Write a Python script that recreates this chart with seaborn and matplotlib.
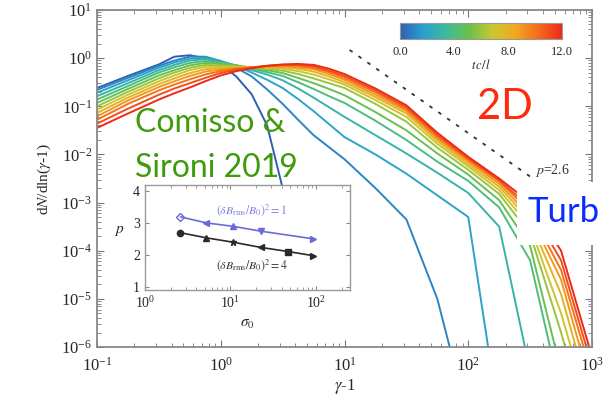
import numpy as np
import pandas as pd
import matplotlib
matplotlib.use("Agg")
import matplotlib.pyplot as plt
import seaborn as sns
from matplotlib.colors import LinearSegmentedColormap, Normalize
from matplotlib.cm import ScalarMappable
from matplotlib.patches import Rectangle

# ---------------- data (log10 values) ----------------
log_gm1 = [-1, -0.75, -0.5, -0.375, -0.25, -0.125, 0, 0.125, 0.25, 0.375, 0.5, 0.625, 0.75, 0.875,
           1.0, 1.25, 1.5, 1.75, 2.0, 2.25, 2.5, 2.75, 3.0]
times = [0, 1, 2, 3, 4, 5, 6, 7, 8, 9, 10, 11, 12]
nan = np.nan
spec_t00 = [-0.62, -0.37, -0.13, 0.03, 0.06, 0.00, -0.13, -0.38, -0.75, -1.40, -2.70, nan, nan, nan,
            nan, nan, nan, nan, nan, nan, nan, nan, nan]
spec_t01 = [-0.66, -0.41, -0.16, -0.05, 0.03, 0.03, -0.06, -0.20, -0.38, -0.65, -0.95, -1.28, -1.60, -1.85,
            -2.10, -2.70, -3.35, -5.0, -7.5, nan, nan, nan, nan]
spec_t02 = [-0.72, -0.46, -0.20, -0.09, -0.01, 0.01, -0.06, -0.16, -0.30, -0.45, -0.62, -0.85, -1.10, -1.37,
            -1.64, -2.00, -2.40, -2.85, -3.30, -7.5, nan, nan, nan]
spec_t03 = [-0.79, -0.52, -0.25, -0.14, -0.05, -0.02, -0.08, -0.15, -0.25, -0.34, -0.46, -0.63, -0.82, -1.02,
            -1.22, -1.60, -1.98, -2.38, -2.80, -3.50, -6.5, nan, nan]
spec_t04 = [-0.86, -0.58, -0.30, -0.19, -0.10, -0.06, -0.10, -0.15, -0.22, -0.29, -0.37, -0.50, -0.64, -0.79,
            -0.93, -1.30, -1.70, -2.15, -2.55, -3.10, -4.20, -7.0, nan]
spec_t05 = [-0.93, -0.64, -0.36, -0.25, -0.15, -0.10, -0.12, -0.15, -0.20, -0.25, -0.31, -0.41, -0.52, -0.64,
            -0.77, -1.12, -1.50, -1.98, -2.42, -2.95, -3.90, -6.5, nan]
spec_t06 = [-1.00, -0.70, -0.42, -0.30, -0.20, -0.14, -0.15, -0.17, -0.19, -0.22, -0.26, -0.33, -0.42, -0.52,
            -0.62, -0.95, -1.32, -1.86, -2.32, -2.82, -3.65, -5.7, -8.0]
spec_t07 = [-1.07, -0.76, -0.48, -0.36, -0.25, -0.18, -0.18, -0.18, -0.19, -0.20, -0.22, -0.27, -0.34, -0.44,
            -0.55, -0.87, -1.22, -1.78, -2.25, -2.74, -3.50, -5.3, -7.5]
spec_t08 = [-1.14, -0.82, -0.54, -0.42, -0.31, -0.23, -0.21, -0.19, -0.19, -0.18, -0.19, -0.22, -0.28, -0.38,
            -0.50, -0.81, -1.15, -1.72, -2.20, -2.67, -3.38, -4.9, -7.2]
spec_t09 = [-1.21, -0.88, -0.60, -0.48, -0.37, -0.28, -0.24, -0.21, -0.19, -0.17, -0.17, -0.19, -0.23, -0.33,
            -0.45, -0.76, -1.10, -1.67, -2.15, -2.61, -3.28, -4.6, -6.9]
spec_t10 = [-1.28, -0.95, -0.67, -0.55, -0.44, -0.34, -0.27, -0.22, -0.19, -0.16, -0.15, -0.16, -0.20, -0.29,
            -0.41, -0.71, -1.06, -1.63, -2.11, -2.56, -3.18, -4.4, -6.6]
spec_t11 = [-1.36, -1.05, -0.76, -0.63, -0.52, -0.41, -0.31, -0.24, -0.20, -0.16, -0.14, -0.14, -0.17, -0.26,
            -0.37, -0.67, -1.02, -1.59, -2.08, -2.53, -3.10, -4.2, -6.4]
spec_t12 = [-1.45, -1.15, -0.86, -0.73, -0.61, -0.48, -0.36, -0.27, -0.21, -0.16, -0.13, -0.12, -0.14, -0.22,
            -0.33, -0.63, -0.98, -1.55, -2.05, -2.50, -3.00, -4.0, -6.2]
spectra = [spec_t00, spec_t01, spec_t02, spec_t03, spec_t04, spec_t05, spec_t06,
           spec_t07, spec_t08, spec_t09, spec_t10, spec_t11, spec_t12]

# reference power law p = 2.6 (end points)
pl_x = [11.0, 320.0]
pl_y = [1.48, 3.4e-3]

# inset: spectral index p vs sigma_0
sigma_b1 = [2.6, 5.2, 10.8, 22.5, 92]
p_b1 = [3.20, 3.01, 2.90, 2.75, 2.51]
sigma_b4 = [2.6, 5.2, 10.8, 22.5, 47, 92]
p_b4 = [2.70, 2.54, 2.40, 2.24, 2.11, 1.98]

cbar_ticks = [0, 4, 8, 12]
cbar_ticklabels = ["0.0", "4.0", "8.0", "12.0"]

# ---------------- style ----------------
sns.set_style("ticks")
plt.rcParams["font.family"] = ["Liberation Serif", "DejaVu Serif"]
plt.rcParams["mathtext.fontset"] = "stix"
plt.rcParams["xtick.direction"] = "in"
plt.rcParams["ytick.direction"] = "in"
plt.rcParams["xtick.top"] = True
plt.rcParams["ytick.right"] = True

W, H = 605, 401
fig = plt.figure(figsize=(W / 100, H / 100), dpi=100)

def fx(px):
    return px / W

def fy(py):
    return 1 - py / H

cmap = LinearSegmentedColormap.from_list(
    "spec", ["#2f5fb3", "#2a9fd0", "#3dbb9a", "#6cc04a", "#c8c832", "#f2a81e", "#f46a1c", "#ec2a18"])
norm = Normalize(0, 12)

# main axes
ax = fig.add_axes([fx(97), fy(347), fx(592) - fx(97), fy(10) - fy(347)])
rows = []
for t, s in zip(times, spectra):
    for lx, ly in zip(log_gm1, s):
        rows.append({"gm1": 10.0 ** lx, "dN": 10.0 ** ly, "t": t})
df = pd.DataFrame(rows).dropna()
sns.lineplot(data=df, x="gm1", y="dN", hue="t", palette=cmap, hue_norm=norm,
             estimator=None, units="t", sort=True, lw=1.4, legend=False, ax=ax)
ax.set_xscale("log")
ax.set_yscale("log")
ax.set_xlim(0.1, 1000)
ax.set_ylim(1e-6, 10)
ax.plot(pl_x, pl_y, color="#333333", lw=1.3, ls=(0, (2, 4)))
ax.text(480, 4.7e-3, "$p$=2.6", fontsize=10, color="#333333", ha="center", va="center")
ax.set_xlabel("$\\gamma$-1", fontsize=12, labelpad=2)
ax.set_ylabel("d$N$/dln($\\gamma$-1)", fontsize=11, labelpad=6)
ax.tick_params(labelsize=12, color="#777777", length=5)
ax.tick_params(axis="x", pad=7)
ax.tick_params(which="minor", length=3, color="#777777")
for sp in ax.spines.values():
    sp.set_color("#888888")
    sp.set_linewidth(1.3)

# colorbar
cax = fig.add_axes([fx(400), fy(39), fx(562) - fx(400), fy(23) - fy(39)])
cb = fig.colorbar(ScalarMappable(norm=norm, cmap=cmap), cax=cax, orientation="horizontal")
cb.set_ticks(cbar_ticks)
cb.set_ticklabels(cbar_ticklabels)
cb.ax.tick_params(labelsize=9, length=2, direction="in", color="#777777", pad=5)
cb.outline.set_edgecolor("#999999")
cb.set_label("$t\\,c/l$", fontsize=9, labelpad=0)

# inset
iax = fig.add_axes([fx(145), fy(290), fx(350) - fx(145), fy(185) - fy(290)])
iax.set_facecolor("white")
sns.lineplot(x=sigma_b1, y=p_b1, color="#6b6bd6", lw=1.2, ax=iax)
sns.lineplot(x=sigma_b4, y=p_b4, color="#2a2a2a", lw=1.2, ax=iax)
for xv, yv, m in zip(sigma_b1, p_b1, ["D", "<", "^", "v", ">"]):
    iax.plot(xv, yv, marker=m, ms=4, color="#6b6bd6", mfc="none" if m == "D" else "#6b6bd6")
for xv, yv, m in zip(sigma_b4, p_b4, ["o", "^", "*", "<", "s", ">"]):
    iax.plot(xv, yv, marker=m, ms=4.5, color="#2a2a2a")
iax.set_xscale("log")
iax.set_xlim(1, 250)
iax.set_ylim(0.9, 4.2)
iax.set_yticks([1, 2, 3, 4])
iax.set_xlabel("$\\sigma_0$", fontsize=11, labelpad=5)
iax.set_ylabel("$p$", fontsize=11, rotation=0, labelpad=10)
iax.tick_params(labelsize=10, length=3, color="#888888")
iax.tick_params(which="minor", length=2, color="#888888")
for sp in iax.spines.values():
    sp.set_color("#999999")
    sp.set_linewidth(1.0)
iax.text(0.52, 0.76, "$(\\delta B_{\\rm rms}/B_0)^2=1$", transform=iax.transAxes,
         fontsize=8.5, color="#7f7fdd", ha="center", va="center")
iax.text(0.52, 0.24, "$(\\delta B_{\\rm rms}/B_0)^2=4$", transform=iax.transAxes,
         fontsize=8.5, color="#333333", ha="center", va="center")

# overlay annotations
fig.add_artist(Rectangle((fx(517), fy(245)), fx(605) - fx(517), fy(182) - fy(245),
                         transform=fig.transFigure, facecolor="white", edgecolor="none", zorder=5))
fig.text(fx(135), fy(123), "Comisso &", fontsize=23, color="#3f9a0c",
         family=["Lato", "DejaVu Sans"], ha="left", va="center", zorder=6)
fig.text(fx(135), fy(168), "Sironi 2019", fontsize=23, color="#3f9a0c",
         family=["Lato", "DejaVu Sans"], ha="left", va="center", zorder=6)
fig.text(fx(477), fy(107), "2D", fontsize=30, color="#ff2a0a",
         family=["Lato", "DejaVu Sans"], ha="left", va="center", zorder=6)
fig.text(fx(527), fy(212), "Turb", fontsize=25, color="#0a2cff",
         family=["Lato", "DejaVu Sans"], ha="left", va="center", zorder=6)

fig.savefig("out.png", dpi=100)
